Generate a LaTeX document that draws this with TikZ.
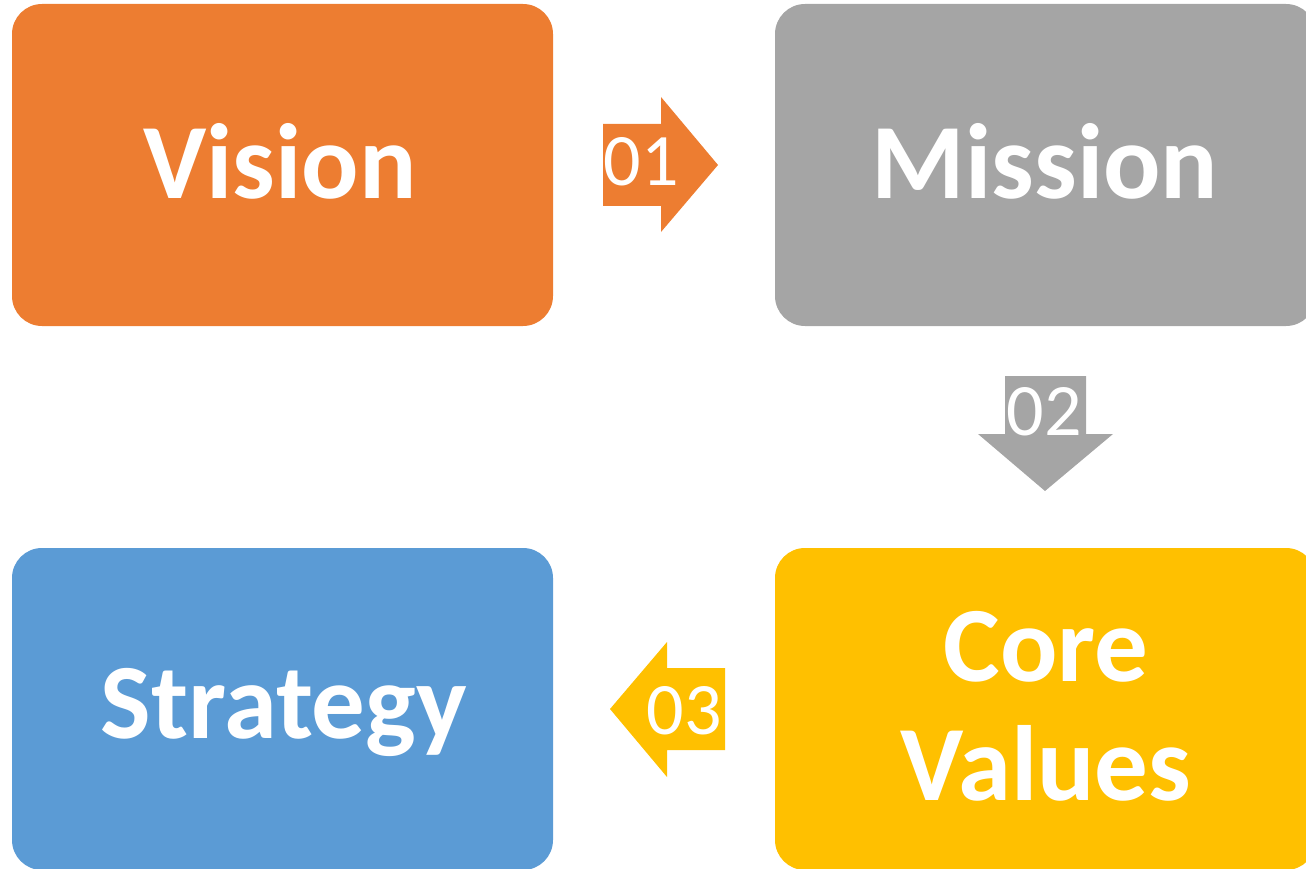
\documentclass[tikz,border=0pt]{standalone}
\usepackage{fontspec}
\setmainfont{Carlito}
\definecolor{cOrange}{HTML}{ED7D31}
\definecolor{cGray}{HTML}{A5A5A5}
\definecolor{cYellow}{HTML}{FFC000}
\definecolor{cBlue}{HTML}{5B9BD5}
\tikzset{
  box/.style={rounded corners=30pt, draw=none},
  boxtext/.style={text=white, font=\fontsize{107}{119}\selectfont\bfseries, align=center, inner sep=0pt},
  numtext/.style={text=white, font=\fontsize{74}{80}\selectfont, inner sep=0pt},
}
\begin{document}
\begin{tikzpicture}[x=1pt,y=-1pt]
\useasboundingbox (0,0) rectangle (1306,869);
\clip (0,0) rectangle (1306,869);
% boxes
\fill[box, cOrange] (12,4) rectangle (553,326);
\fill[box, cGray] (775,4) rectangle (1316,326);
\fill[box, cBlue] (12,548) rectangle (553,870);
\fill[box, cYellow] (775,548) rectangle (1316,870);
\node[boxtext] (vision) at (280,161) {Vision};
\node[boxtext] (mission) at (1045,161) {Mission};
\node[boxtext] (strategy) at (284,712) {Strategy};
\node[boxtext] (core) at (1046,706) {Core\\Values};
% arrows
\fill[cOrange] (603,124) -- (661,124) -- (661,97) -- (718,165) -- (661,232) -- (661,206) -- (603,206) -- cycle;
\fill[cGray] (1005,376) -- (1086,376) -- (1086,434) -- (1113,434) -- (1045,491) -- (978,434) -- (1005,434) -- cycle;
\fill[cYellow] (725,668) -- (667,668) -- (667,642) -- (610,709) -- (667,777) -- (667,750) -- (725,750) -- cycle;
\node[numtext] (n1) at (641,162) {01};
\node[numtext] (n2) at (1044,412) {02};
\node[numtext] (n3) at (684,711) {03};
\end{tikzpicture}
\end{document}
